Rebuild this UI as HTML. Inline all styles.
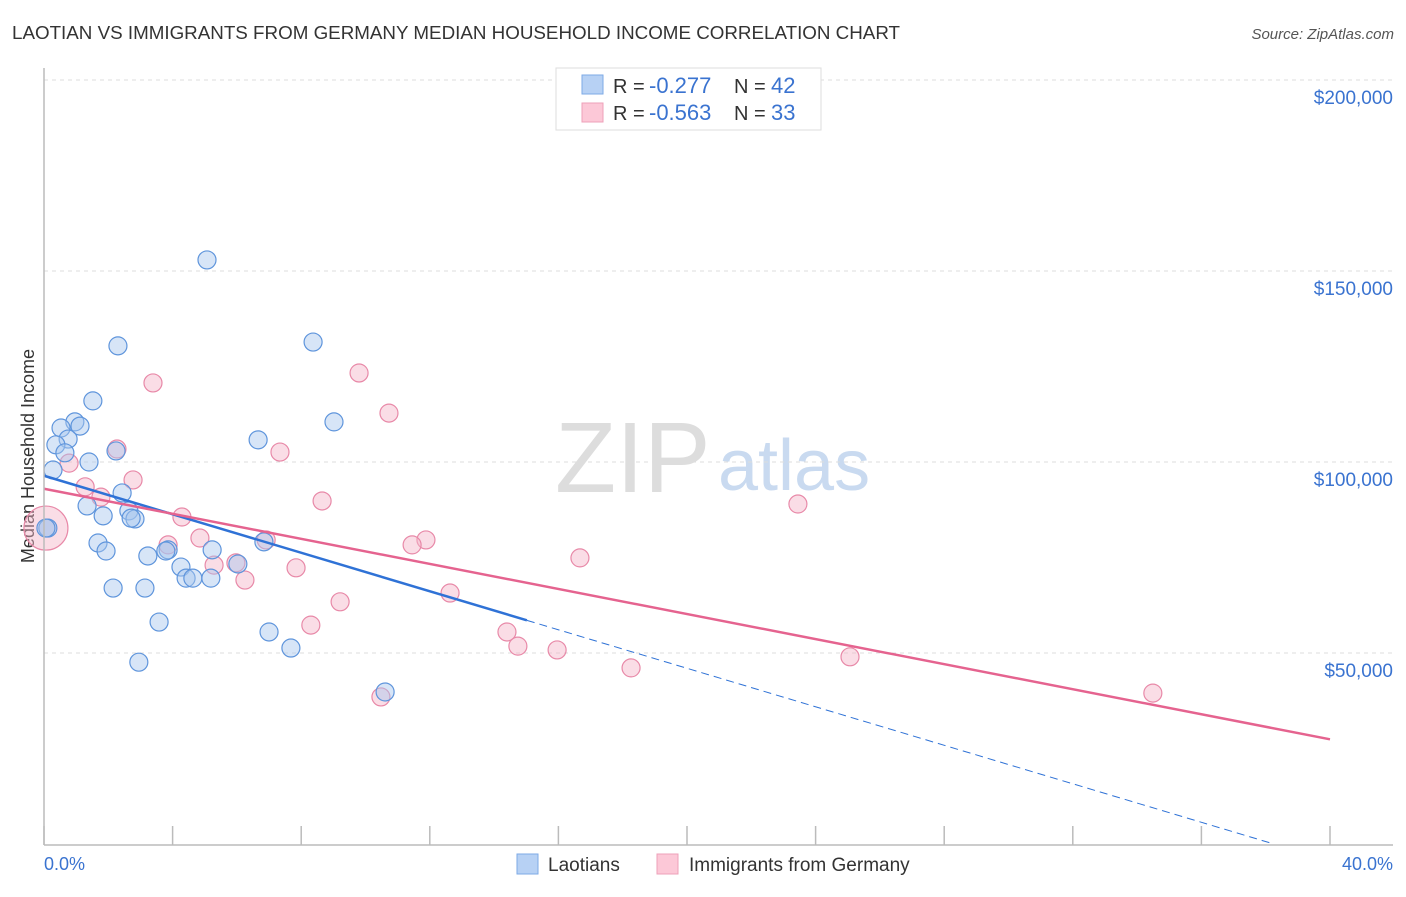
<!DOCTYPE html>
<html><head><meta charset="utf-8"><style>
body{margin:0;background:#fff;font-family:"Liberation Sans",sans-serif;}
svg text{font-family:"Liberation Sans",sans-serif;}
</style></head><body>
<svg id="chart" width="1406" height="892">
<text x="12" y="39" font-size="18.8" fill="#333">LAOTIAN VS IMMIGRANTS FROM GERMANY MEDIAN HOUSEHOLD INCOME CORRELATION CHART</text>
<text x="1394" y="39" font-size="15" fill="#555" font-style="italic" text-anchor="end">Source: ZipAtlas.com</text>
<text x="34" y="456" font-size="18" fill="#333" text-anchor="middle" transform="rotate(-90 34 456)">Median Household Income</text>
<text x="555" y="492" font-size="100" fill="#ddd" font-family="Liberation Serif">ZIP</text>
<text x="718" y="490" font-size="72" fill="#c9daf0">atlas</text>
<g id="grid"></g>
<g id="marks"></g>
<line x1="44" y1="68" x2="44" y2="845" stroke="#bbb" stroke-width="1.5"/>
<line x1="44" y1="845" x2="1393" y2="845" stroke="#bbb" stroke-width="1.5"/>
<text x="44" y="870" font-size="18" fill="#3a73d0">0.0%</text>
<text x="1393" y="870" font-size="18" fill="#3a73d0" text-anchor="end">40.0%</text>
<g>
<rect x="556" y="68" width="265" height="62" fill="#fff" stroke="#ddd"/>
<rect x="582" y="75" width="21" height="19" fill="#b7d1f4" stroke="#7eaae6"/>
<rect x="582" y="103" width="21" height="19" fill="#fcc8d7" stroke="#eea0b8"/>
<text x="613" y="93" font-size="20" fill="#333">R = </text><text x="649" y="93" font-size="22" fill="#3a73d0">-0.277</text>
<text x="734" y="93" font-size="20" fill="#333">N = </text><text x="771" y="93" font-size="22" fill="#3a73d0">42</text>
<text x="613" y="120" font-size="20" fill="#333">R = </text><text x="649" y="120" font-size="22" fill="#3a73d0">-0.563</text>
<text x="734" y="120" font-size="20" fill="#333">N = </text><text x="771" y="120" font-size="22" fill="#3a73d0">33</text>
</g>
<g>
<rect x="517" y="854" width="21" height="20" fill="#b7d1f4" stroke="#7eaae6"/>
<text x="548" y="871" font-size="19" fill="#333">Laotians</text>
<rect x="657" y="854" width="21" height="20" fill="#fcc8d7" stroke="#eea0b8"/>
<text x="689" y="871" font-size="19" fill="#333">Immigrants from Germany</text>
</g>
</svg>
<script>
const yTicks=[50,100,150,200];
const yTickLabels=["$50,000","$100,000","$150,000","$200,000"];
const xTicks=[0,4,8,12,16,20,24,28,32,36,40];
const blueX=[5.07,2.30,8.37,1.52,9.02,0.96,1.12,0.53,0.75,0.37,6.66,0.65,2.24,1.40,0.28,2.43,1.34,2.64,1.84,2.83,1.68,6.84,1.93,3.86,5.23,3.23,6.03,4.26,4.42,4.63,5.19,2.15,3.14,3.58,7.00,7.68,2.95,10.61,3.79,0.12,2.71,0.06];
const blueY=[152.9,130.4,131.4,116.0,110.5,110.5,109.4,108.9,106.0,104.5,105.8,102.4,102.9,100.0,97.9,91.9,88.5,87.2,85.9,85.1,78.8,79.1,76.7,77.0,77.0,75.4,73.3,72.5,69.6,69.6,69.6,67.0,67.0,58.1,55.5,51.3,47.6,39.8,76.7,82.7,85.3,82.7];
const pinkX=[3.39,9.80,10.73,2.27,0.78,7.34,2.77,1.28,1.77,8.65,4.29,23.45,4.85,3.86,6.91,11.88,11.45,16.67,5.29,5.97,6.25,7.84,12.63,9.21,8.30,14.40,14.74,15.96,18.26,25.07,10.48,34.49,0.06];
const pinkY=[120.7,123.3,112.8,103.4,99.7,102.6,95.3,93.5,90.8,89.8,85.6,89.0,80.1,78.3,79.6,79.6,78.3,74.9,73.0,73.6,69.1,72.3,65.7,63.4,57.3,55.5,51.8,50.8,46.1,49.0,38.5,39.5,82.7];
const blueFit=[96.4,-2.52,15.02,38.13];
const pinkFit=[93.0,-1.64,40];
const NS="http://www.w3.org/2000/svg";
const X=v=>44+v*32.15, Y=v=>844-v*3.82;
function mk(t,a,p){const e=document.createElementNS(NS,t);for(const k in a)e.setAttribute(k,a[k]);p.appendChild(e);return e;}
const grid=document.getElementById('grid'),marks=document.getElementById('marks');
yTicks.forEach((t,i)=>{
 const l=mk('line',{x1:44,x2:1393,y1:Y(t),y2:Y(t),stroke:'#ddd','stroke-dasharray':'4,4'},grid);
 
 
 const tx=mk('text',{x:1393,y:Y(t)+24,'font-size':19,fill:'#3a73d0','text-anchor':'end'},grid);
 tx.textContent=yTickLabels[i];
 
 
});
xTicks.forEach(t=>{
 const l=mk('line',{x1:X(t),x2:X(t),y1:826,y2:845,stroke:'#bbb','stroke-width':1.5},grid);
 
 
});
function pts(xs,ys,fill,stroke,name){
 xs.forEach((x,i)=>{
  const big=(x<0.1);
  const c=mk('circle',{cx:X(x),cy:Y(ys[i]),r:big&&name=='germany-point'?22:9,fill:fill,'fill-opacity':0.45,stroke:stroke,'stroke-width':1.2},marks);
  
  
 });
}
pts(pinkX,pinkY,'#f5b3c7','#e889a8','germany-point');
pts(blueX,blueY,'#a7c6ee','#5f95dc','laotian-point');
let ln=mk('line',{x1:X(0),y1:Y(blueFit[0]),x2:X(blueFit[2]),y2:Y(blueFit[0]+blueFit[1]*blueFit[2]),stroke:'#2f72d6','stroke-width':2.5},marks);


ln=mk('line',{x1:X(blueFit[2]),y1:Y(blueFit[0]+blueFit[1]*blueFit[2]),x2:X(blueFit[3]),y2:Y(blueFit[0]+blueFit[1]*blueFit[3]),stroke:'#2f72d6','stroke-width':1,'stroke-dasharray':'8,5'},marks);


ln=mk('line',{x1:X(0),y1:Y(pinkFit[0]),x2:X(pinkFit[2]),y2:Y(pinkFit[0]+pinkFit[1]*pinkFit[2]),stroke:'#e5638f','stroke-width':2.5},marks);


</script>
</body></html>
